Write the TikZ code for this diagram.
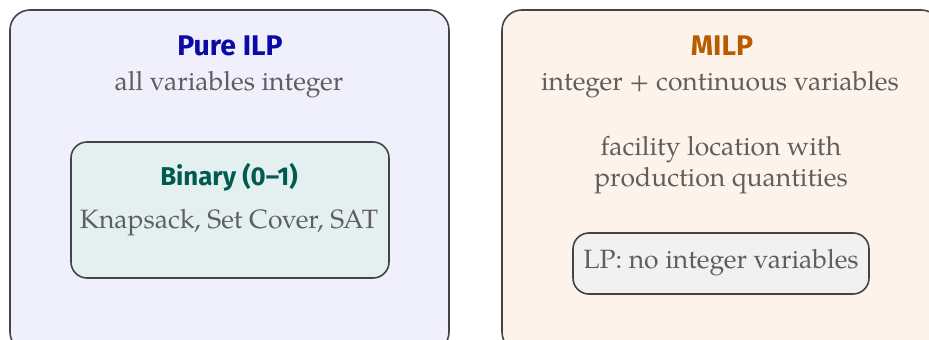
\documentclass[tikz,border=0pt]{standalone}
\usepackage{fontspec}
\setmainfont{TeX Gyre Pagella}
\newfontfamily\headfont{Fira Sans}
\definecolor{edgegray}{HTML}{444444}
\definecolor{bodygray}{HTML}{5E5E5E}
\definecolor{ilpfill}{HTML}{F0EFFC}
\definecolor{binfill}{HTML}{E4F0F0}
\definecolor{milpfill}{HTML}{FEF3EA}
\definecolor{lpfill}{HTML}{F1F1F1}
\definecolor{ilpblue}{HTML}{0A0AA8}
\definecolor{binteal}{HTML}{005A50}
\definecolor{milporange}{HTML}{B85C00}
\tikzset{
  panel/.style={draw=edgegray, line width=1.6pt, rounded corners=20pt},
  inner/.style={draw=edgegray, line width=1.6pt, rounded corners=16pt},
  headtext/.style={anchor=base, inner sep=0pt, font=\headfont\bfseries\fontsize{28.4}{32}\selectfont},
  subhead/.style={anchor=base, inner sep=0pt, font=\headfont\bfseries\fontsize{25.8}{30}\selectfont},
  bodytext/.style={anchor=base, text=bodygray, font=\fontsize{26.5}{32}\selectfont, inner sep=0pt},
}
\begin{document}
\begin{tikzpicture}[x=1pt, y=-1pt]
\useasboundingbox (0,0) rectangle (929,340);
\clip (0,0) rectangle (929,340);
% outer panels
\path[panel, fill=ilpfill] (10,10) rectangle (449,352);
\path[panel, fill=milpfill] (502,10) rectangle (941,352);
% inner boxes
\path[inner, fill=binfill] (71,142) rectangle (389,278);
\path[inner, fill=lpfill] (573,233) rectangle (869,294);
% Pure ILP panel
\node[headtext, text=ilpblue] (ilp) at (230,55) {Pure ILP};
\node[bodytext] (ilpsub) at (229,90) {all variables integer};
\node[subhead, text=binteal] (bin) at (229,185) {Binary (0–1)};
\node[bodytext] (binsub) at (229,228) {Knapsack, Set Cover, SAT};
% MILP panel
\node[headtext, text=milporange] (milp) at (722,55) {MILP};
\node[bodytext] (milpsub) at (720,90) {integer + continuous variables};
\node[bodytext] (ex1) at (721,155) {facility location with};
\node[bodytext] (ex2) at (721,186) {production quantities};
\node[bodytext] (lp) at (721,268) {LP: no integer variables};
\end{tikzpicture}
\end{document}
